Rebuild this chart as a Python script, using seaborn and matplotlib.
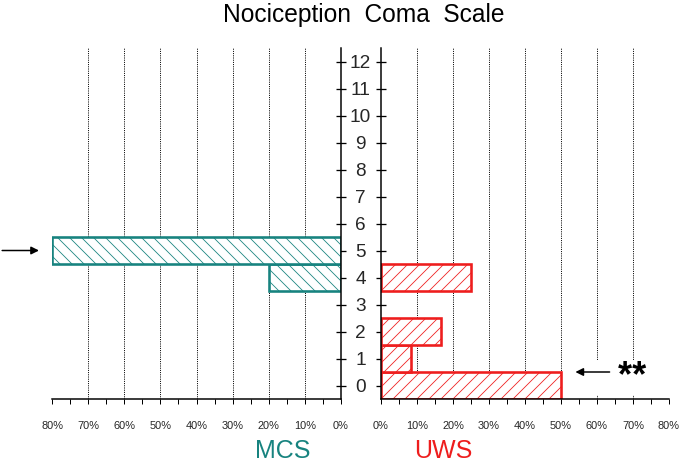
import numpy as np
import pandas as pd
import seaborn as sns
import matplotlib.pyplot as plt

# data (percent of patients per NCS score)
mcs_score = [4, 5]
mcs_pct = [20.0, 80.0]
uws_score = [0, 1, 2, 4]
uws_pct = [50.0, 8.33, 16.67, 25.0]
score_ticks = list(range(13))
pct_ticks = [0, 10, 20, 30, 40, 50, 60, 70, 80]
pct_labels = [f'{v}%' for v in pct_ticks]

teal = '#17837f'
red = '#ee1d1d'

sns.set_theme(style='white')
plt.rcParams['font.family'] = ['Liberation Sans', 'DejaVu Sans']
plt.rcParams['hatch.linewidth'] = 0.8

# dpi 72 -> 1 pt = 1 px
fig = plt.figure(figsize=(680 / 72, 467 / 72), dpi=72)
ax1 = fig.add_axes([52 / 680, 1 - 399 / 467, 289 / 680, 351 / 467])
ax2 = fig.add_axes([381 / 680, 1 - 399 / 467, 288 / 680, 351 / 467])

mcs = pd.DataFrame({'score': mcs_score, 'pct': mcs_pct})
uws = pd.DataFrame({'score': uws_score, 'pct': uws_pct})

sns.barplot(data=mcs, x='pct', y='score', orient='h', native_scale=True,
            width=1, errorbar=None, ax=ax1)
sns.barplot(data=uws, x='pct', y='score', orient='h', native_scale=True,
            width=1, errorbar=None, ax=ax2)

for ax, col, hatch in [(ax1, teal, '\\\\'), (ax2, red, '//')]:
    for p in ax.patches:
        p.set_facecolor('white')
        p.set_edgecolor(col)
        p.set_linewidth(2.6)
        p.set_hatch(hatch)
        p.set_zorder(2)
    ax.set_ylim(-0.5, 12.5)
    ax.set_xticks(pct_ticks)
    ax.set_xticklabels(pct_labels)
    ax.set_xticks(np.arange(5, 80, 10), minor=True)
    ax.set_yticks(score_ticks)
    ax.set_xlabel('')
    ax.set_ylabel('')
    ax.tick_params(axis='x', which='both', direction='out', length=5,
                   width=1, color='black', labelsize=11, pad=17,
                   bottom=True)
    ax.tick_params(axis='y', direction='inout', length=10, width=1.3,
                   color='black')
    for v in pct_ticks[1:-1]:
        ax.axvline(v, color='black', ls=(0, (1, 1.2)), lw=1, zorder=0.5)
    for s in ax.spines.values():
        s.set_color('black')
        s.set_linewidth(1.5)
        s.set_zorder(3)
    ax.spines['top'].set_visible(False)
    ax.set_facecolor('none')

ax1.set_xlim(80, 0)
ax1.spines['left'].set_visible(False)
ax1.yaxis.tick_right()
ax1.tick_params(axis='y', labelsize=19, pad=14.5, right=True, left=False)
for lbl in ax1.get_yticklabels():
    lbl.set_ha('center')

ax2.set_xlim(0, 80)
ax2.spines['right'].set_visible(False)
ax2.tick_params(axis='y', labelleft=False, left=True)

# arrows and significance mark
ax1.annotate('', xy=(83.6, 5), xytext=(93.8, 5), annotation_clip=False,
             arrowprops=dict(arrowstyle='-|>', color='black', lw=1.5,
                             mutation_scale=16, shrinkA=0, shrinkB=0))
ax2.text(73.6, 0.3, '    **', ha='right', va='center', fontsize=36,
         fontweight='bold', color='black', zorder=1,
         bbox=dict(fc='white', ec='none', pad=0))
ax2.annotate('', xy=(54.0, 0.5), xytext=(63.5, 0.5), zorder=4,
             arrowprops=dict(arrowstyle='-|>', color='black', lw=1.5,
                             mutation_scale=16, shrinkA=0, shrinkB=0))

fig.text(364 / 680, 1 - 15 / 467, 'Nociception  Coma  Scale', ha='center',
         va='center', fontsize=24.5, color='black')
fig.text(283 / 680, 1 - 451 / 467, 'MCS', ha='center', va='center',
         fontsize=25, color=teal)
fig.text(443 / 680, 1 - 451 / 467, 'UWS', ha='center', va='center',
         fontsize=25, color=red)

fig.savefig('out.png', dpi=72, facecolor='white')
